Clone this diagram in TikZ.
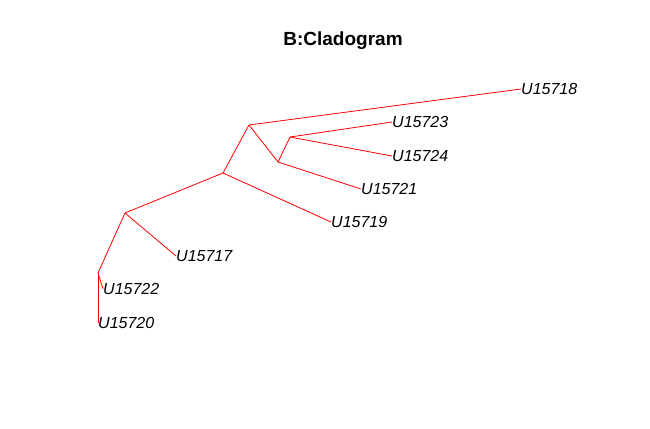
\documentclass[tikz,border=0pt]{standalone}
\usepackage{fontspec}
\setmainfont{Liberation Sans}
\begin{document}
\begin{tikzpicture}[x=1bp,y=-1bp,line join=bevel,
  tip/.style={anchor=west,inner sep=0pt,font=\fontsize{16bp}{18bp}\selectfont\itshape},
  branch/.style={red,line width=0.8bp}]
\useasboundingbox (0,0) rectangle (650,428);
%%
  \node (title) at (343,41) [draw=none] {\fontsize{19bp}{22bp}\selectfont\bfseries B:Cladogram};

  \coordinate (node_a) at (98,273);
  \coordinate (node_b) at (125,213);
  \coordinate (node_c) at (223,173);
  \coordinate (node_d) at (249,125);
  \coordinate (node_e) at (278,162);
  \coordinate (node_f) at (290,137);

  \node (leaf_20) at (98,323) [tip] {U15720};
  \node (leaf_22) at (103,289) [tip] {U15722};
  \node (leaf_17) at (176,256) [tip] {U15717};
  \node (leaf_19) at (331,222) [tip] {U15719};
  \node (leaf_21) at (361,189) [tip] {U15721};
  \node (leaf_24) at (392,156) [tip] {U15724};
  \node (leaf_23) at (392,122) [tip] {U15723};
  \node (leaf_18) at (521,89) [tip] {U15718};

  \draw [branch] (node_a) -- (leaf_20.west);
  \draw [branch] (node_a) -- (leaf_22.west);
  \draw [branch] (node_a) -- (node_b);
  \draw [branch] (node_b) -- (leaf_17.west);
  \draw [branch] (node_b) -- (node_c);
  \draw [branch] (node_c) -- (leaf_19.west);
  \draw [branch] (node_c) -- (node_d);
  \draw [branch] (node_d) -- (leaf_18.west);
  \draw [branch] (node_d) -- (node_e);
  \draw [branch] (node_e) -- (leaf_21.west);
  \draw [branch] (node_e) -- (node_f);
  \draw [branch] (node_f) -- (leaf_23.west);
  \draw [branch] (node_f) -- (leaf_24.west);

\end{tikzpicture}
\end{document}
